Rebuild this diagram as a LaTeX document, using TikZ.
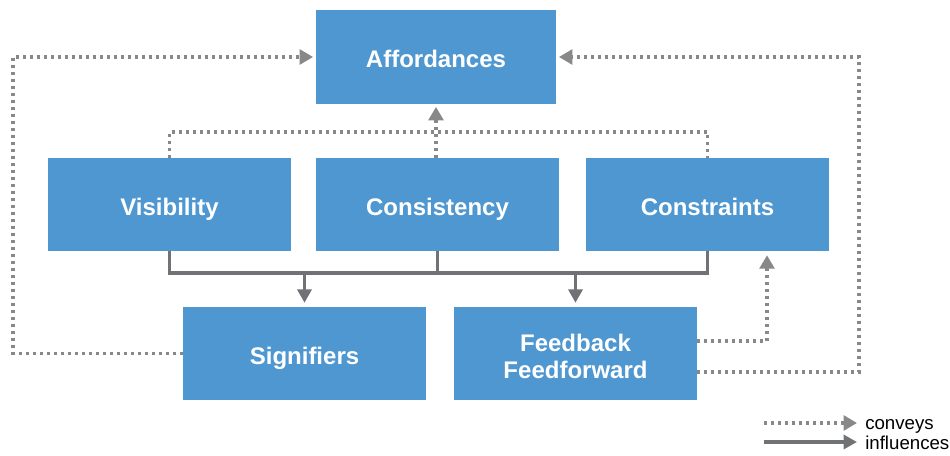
\documentclass[tikz,border=0pt]{standalone}
\usepackage{fontspec}
\setmainfont{Liberation Sans}
\usetikzlibrary{arrows.meta}
\definecolor{boxblue}{HTML}{4F97D1}
\definecolor{dotgray}{HTML}{888888}
\definecolor{linegray}{HTML}{707275}
\tikzset{
    block/.style={fill=boxblue,text=white,font=\fontsize{18}{20.25}\selectfont\bfseries,
        align=center,minimum width=182.25pt,minimum height=69.75pt,inner sep=0pt,
        text height=16.5pt,text depth=0pt},
    conveys/.style={dotgray,line width=2.5pt,dash pattern=on 2.4pt off 2.85pt,
        -{Triangle[length=10pt,width=11pt]}},
    influences/.style={linegray,line width=2.4pt,-{Triangle[length=10pt,width=10.5pt]}},
    legendtext/.style={anchor=base west,inner sep=0pt,font=\fontsize{14}{16}\selectfont}
}
\begin{document}
\begin{tikzpicture}[x=0.75pt,y=-0.75pt]
    \useasboundingbox (0,0) rectangle (950,456);
    %% boxes
    \node[block,minimum width=180pt,minimum height=70.5pt] (affd) at (436,57) {Affordances};
    \node[block] (visi) at (169.5,204.5) {Visibility};
    \node[block] (cons) at (437.5,204.5) {Consistency};
    \node[block] (cstr) at (707.5,204.5) {Constraints};
    \node[block] (sign) at (304.5,353.5) {Signifiers};
    \node[block,text height=36.75pt] (feed) at (575.5,353.5) {Feedback\\Feedforward};
    %% corner points
    \coordinate (dtop) at (0,132);
    \coordinate (sbar) at (0,273);
    \coordinate (lft) at (13,57);
    \coordinate (rgt) at (859,57);
    %% conveys
    \draw[conveys,-] (visi.north) -- (visi.north |- dtop) -- (cstr.north |- dtop) -- (cstr.north);
    \draw[conveys,shorten >=2pt] (affd.south |- cons.north) -- (affd.south);
    \draw[conveys,shorten >=2pt] (sign.west) -| (lft) -- (affd.west);
    \draw[conveys,shorten >=2pt] ([shift={(0,18.5)}]feed.east) -| (rgt) -- (affd.east);
    \draw[conveys,shorten >=3pt] ([shift={(0,-12.5)}]feed.east) -| ([shift={(59.5,0)}]cstr.south);
    %% influences
    \draw[influences,-] (visi.south) -- (visi.south |- sbar) -- (cstr.south |- sbar) -- (cstr.south);
    \draw[influences,-] (cons.south) -- (cons.south |- sbar);
    \draw[influences,shorten >=3pt] (sign.north |- sbar) -- (sign.north);
    \draw[influences,shorten >=3pt] (feed.north |- sbar) -- (feed.north);
    %% legend
    \coordinate (lga) at (764,423);
    \coordinate (lgb) at (857,423);
    \coordinate (lgc) at (764,442);
    \coordinate (lgd) at (857,442);
    \draw[conveys] (lga) -- (lgb);
    \draw[influences] (lgc) -- (lgd);
    \node[legendtext] (lgconv) at (865,429) {conveys};
    \node[legendtext] (lginfl) at (865,449) {influences};
\end{tikzpicture}
\end{document}
